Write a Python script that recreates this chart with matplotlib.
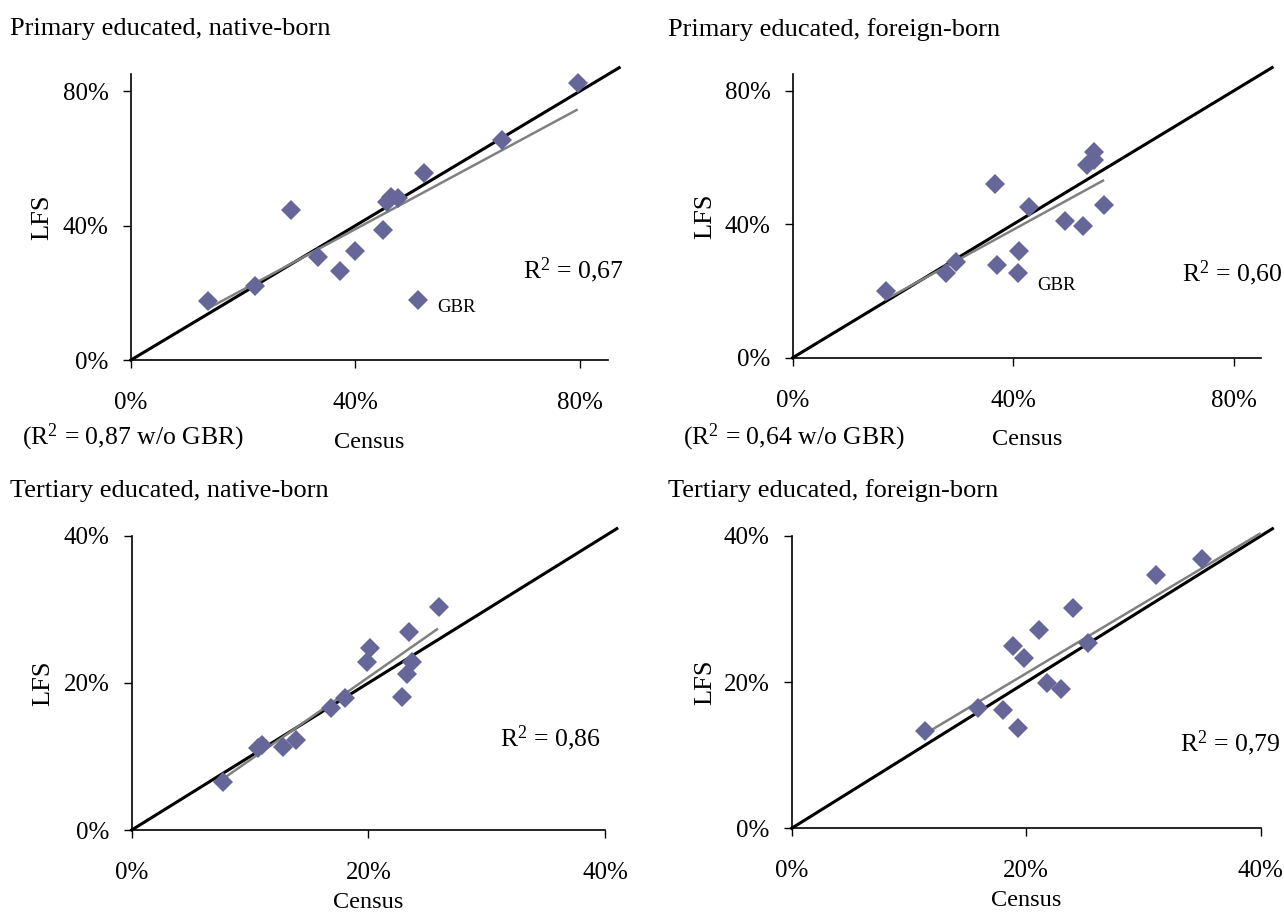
import matplotlib

matplotlib.use("Agg")
import matplotlib.pyplot as plt
import numpy as np

# Shares (in %) by country: census value vs. labour force survey value
titles = [
    "Primary educated, native-born",
    "Primary educated, foreign-born",
    "Tertiary educated, native-born",
    "Tertiary educated, foreign-born",
]

pn_census = [13.8, 22.1, 28.5, 33.4, 37.3, 40.0, 44.9, 45.6, 46.3, 47.6, 51.1, 52.3, 66.1, 79.6]
pn_lfs = [17.6, 22.0, 44.6, 30.8, 26.6, 32.5, 38.7, 47.1, 48.4, 48.3, 17.9, 55.8, 65.5, 82.5]

pf_census = [16.9, 27.8, 29.6, 36.7, 37.0, 40.8, 41.1, 42.8, 49.4, 52.6, 53.4, 54.7, 54.7, 56.4]
pf_lfs = [20.0, 25.3, 28.7, 52.0, 27.8, 25.3, 32.0, 45.3, 41.1, 39.5, 57.8, 59.3, 61.8, 45.8]

tn_census = [7.7, 10.7, 11.0, 12.8, 13.9, 16.8, 18.0, 19.9, 20.1, 22.8, 23.3, 23.7, 23.4, 26.0]
tn_lfs = [6.5, 11.1, 11.5, 11.3, 12.2, 16.6, 18.0, 22.9, 24.8, 18.1, 21.2, 22.9, 27.0, 30.3]

tf_census = [11.4, 15.9, 18.05, 19.3, 18.9, 19.8, 21.1, 21.75, 23.0, 24.0, 25.3, 31.1, 35.0]
tf_lfs = [13.3, 16.5, 16.2, 13.7, 24.9, 23.3, 27.2, 19.9, 19.0, 30.1, 25.3, 34.7, 36.8]

# linear trend lines (census %, lfs %) at start and end
trend_start = [(13.8, 15.4), (16.9, 17.5), (7.75, 7.0), (11.4, 12.95)]
trend_end = [(79.4, 74.4), (56.3, 53.1), (25.8, 27.3), (39.9, 40.3)]

r2_labels = ["0,67", "0,60", "0,86", "0,79"]
r2_wo_gbr = ["0,87", "0,64", None, None]

axis_max = [85, 85, 40, 40]
tick_values = [[0, 40, 80], [0, 40, 80], [0, 20, 40], [0, 20, 40]]
diag_end = [87, 87, 41, 41]

MARKER_COLOR = "#666699"
TREND_COLOR = "#808080"

plt.rcParams["font.family"] = ["Liberation Serif", "DejaVu Serif"]
plt.rcParams["mathtext.default"] = "regular"

# axes rectangles in figure fractions
rects = [
    [0.1020, 0.6061, 0.3715, 0.3125],
    [0.6174, 0.6086, 0.3648, 0.3102],
    [0.1026, 0.0919, 0.3686, 0.3217],
    [0.6166, 0.0938, 0.3653, 0.3198],
]
title_pos = [(0.008, 0.968), (0.520, 0.968), (0.008, 0.463), (0.520, 0.463)]
r2_pos = [(69.9, 26.8), (70.7, 25.4), (31.1, 12.5), (33.1, 11.7)]
gbr_pos = [(54.5, 15.5), (44.3, 21.8), None, None]
wo_pos = [(0.017, 0.522), (0.532, 0.522), None, None]
xlabel_y = [-0.252, -0.252, -0.211, -0.211]
ylabel_x = [-0.162, -0.164, -0.164, -0.161]


def draw_panel(fig, i, census, lfs):
    ax = fig.add_axes(rects[i])
    x = np.asarray(census)
    y = np.asarray(lfs)
    top = axis_max[i]

    ax.plot([0, diag_end[i]], [0, diag_end[i]], color="black", lw=2.2,
            clip_on=False, zorder=2)

    (x0, y0), (x1, y1) = trend_start[i], trend_end[i]
    ax.plot([x0, x1], [y0, y1], color=TREND_COLOR, lw=1.8,
            clip_on=False, zorder=3)

    ax.plot(x, y, linestyle="none", marker="D", ms=10.5, color=MARKER_COLOR,
            markeredgewidth=0, clip_on=False, zorder=4)

    ax.set_xlim(0, top)
    ax.set_ylim(0, top)
    ax.set_xticks(tick_values[i])
    ax.set_yticks(tick_values[i])
    ax.set_xticklabels([f"{v}%" for v in tick_values[i]])
    ax.set_yticklabels([f"{v}%" for v in tick_values[i]])
    ax.tick_params(direction="out", length=6, width=1.0, labelsize=18,
                   colors="black")
    ax.tick_params(axis="x", pad=17)
    ax.tick_params(axis="y", pad=10)

    for side in ("top", "right"):
        ax.spines[side].set_visible(False)
    for side in ("left", "bottom"):
        ax.spines[side].set_linewidth(1.2)
        ax.spines[side].set_color("black")

    ax.set_xlabel("Census", fontsize=17.5)
    ax.xaxis.set_label_coords(0.5, xlabel_y[i])
    ax.set_ylabel("LFS", fontsize=19)
    ax.yaxis.set_label_coords(ylabel_x[i], 0.5)

    ax.text(r2_pos[i][0], r2_pos[i][1], f"R$^{{2}}$ = {r2_labels[i]}",
            fontsize=18.5, ha="left", va="center")
    if gbr_pos[i] is not None:
        ax.text(gbr_pos[i][0], gbr_pos[i][1], "GBR", fontsize=13.5,
                ha="left", va="center")
    if r2_wo_gbr[i] is not None:
        fig.text(wo_pos[i][0], wo_pos[i][1],
                 f"(R$^{{2}}$ = {r2_wo_gbr[i]} w/o GBR)", fontsize=18.5,
                 ha="left", va="center")

    fig.text(title_pos[i][0], title_pos[i][1], titles[i], fontsize=19,
             ha="left", va="center")
    return ax


fig = plt.figure(figsize=(12.84, 9.14), dpi=100)
series = [
    (pn_census, pn_lfs),
    (pf_census, pf_lfs),
    (tn_census, tn_lfs),
    (tf_census, tf_lfs),
]
for i, (census, lfs) in enumerate(series):
    draw_panel(fig, i, census, lfs)

fig.savefig("out.png", dpi=100)
plt.close(fig)
